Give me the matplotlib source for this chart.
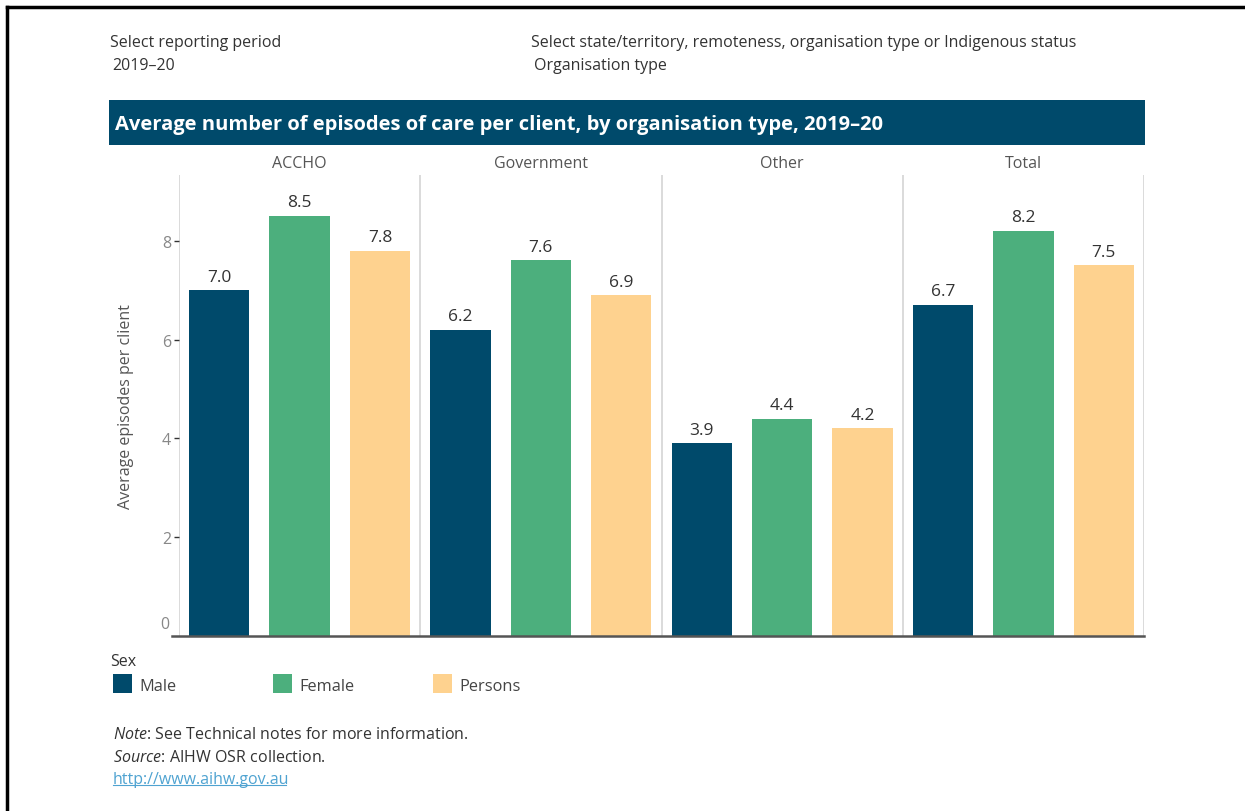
import matplotlib.pyplot as plt
from matplotlib.patches import Rectangle
from matplotlib.lines import Line2D

plt.rcParams['font.family'] = ['Open Sans', 'DejaVu Sans']
plt.rcParams['mathtext.fontset'] = 'custom'
plt.rcParams['mathtext.rm'] = 'Open Sans'
plt.rcParams['mathtext.it'] = 'Open Sans:italic'

# Data
org_types = ["ACCHO", "Government", "Other", "Total"]
sexes = ["Male", "Female", "Persons"]
male = [7.0, 6.2, 3.9, 6.7]
female = [8.5, 7.6, 4.4, 8.2]
persons = [7.8, 6.9, 4.2, 7.5]
y_ticks = [2, 4, 6, 8]

colours = ["#004a6b", "#4caf7d", "#fed28f"]
W, H = 1245, 812


def fx(px):
    return px / W


def fy(py):
    return 1 - py / H


fig = plt.figure(figsize=(12.45, 8.12), dpi=100)

# frame lines at top and left
fig.add_artist(Line2D([fx(7), 1], [fy(8), fy(8)], color="black", lw=2.5))
fig.add_artist(Line2D([fx(7), fx(7)], [fy(8), 0], color="black", lw=2.5))

# selector text
dark = "#333333"
fig.text(fx(110), fy(43), "Select reporting period", fontsize=11.5, color=dark, va="center")
fig.text(fx(112), fy(66), "2019–20", fontsize=11.5, color=dark, va="center")
fig.text(fx(531), fy(43), "Select state/territory, remoteness, organisation type or Indigenous status",
         fontsize=11.5, color=dark, va="center")
fig.text(fx(534), fy(66), "Organisation type", fontsize=11.5, color=dark, va="center")

# title bar
fig.add_artist(Rectangle((fx(109), fy(146)), fx(1145) - fx(109), fy(101) - fy(146),
                         facecolor="#004a6b", edgecolor="none", transform=fig.transFigure))
fig.text(fx(115), fy(125), "Average number of episodes of care per client, by organisation type, 2019–20",
         fontsize=14.5, fontweight="bold", color="white", va="center")

# main axes
ax = fig.add_axes([fx(179), fy(637), fx(1144) - fx(179), fy(176) - fy(637)])
series = [male, female, persons]
for g in range(len(org_types)):
    for s in range(3):
        x = g * 3 + s + 0.5
        v = series[s][g]
        ax.bar(x, v, width=0.75, color=colours[s], edgecolor="none")
        ax.annotate(f"{v:.1f}", (x, v), xytext=(0, 4), textcoords="offset points",
                    ha="center", va="bottom", fontsize=12.5, color=dark)
    ax.text(g * 3 + 1.5, 1.008, org_types[g], transform=ax.get_xaxis_transform(),
            ha="center", va="bottom", fontsize=11.5, color="#555555")

for xs in range(0, 13, 3):
    ax.axvline(xs, color="#d4d4d4", lw=1.2, zorder=0)

ax.set_xlim(0, 12)
ax.set_ylim(0, 9.33)
ax.set_xticks([])
ax.set_yticks(y_ticks)
ax.set_yticklabels([str(t) for t in y_ticks])
ax.tick_params(axis="y", length=3.6, width=1, color="#333333", labelcolor="#888888",
               labelsize=11.5, pad=2)
for side in ["top", "right", "left"]:
    ax.spines[side].set_visible(False)
ax.spines["bottom"].set_color("#555555")
ax.spines["bottom"].set_linewidth(1.8)
ax.spines["bottom"].set_bounds(-0.09, 12)
ax.annotate("0", (0, 0), xycoords=("axes fraction", "data"), xytext=(-7, 3),
            textcoords="offset points", ha="right", va="bottom", fontsize=11.5, color="#888888")
ax.set_ylabel("Average episodes per client", fontsize=11.5, color="#555555", labelpad=20)

# legend
fig.text(fx(110), fy(662), "Sex", fontsize=11.5, color=dark, va="center")
leg_x = [113, 273, 433]
for i, name in enumerate(sexes):
    fig.add_artist(Rectangle((fx(leg_x[i]), fy(694)), fx(19), fy(0) - fy(19),
                             facecolor=colours[i], edgecolor="none", transform=fig.transFigure))
    fig.text(fx(leg_x[i] + 26), fy(687), name, fontsize=11.8, color="#444444", va="center")

# notes
fig.text(fx(113), fy(735), r"$\it{Note}$: See Technical notes for more information.",
         fontsize=11.5, color=dark, va="center")
fig.text(fx(113), fy(758), r"$\it{Source}$: AIHW OSR collection.", fontsize=11.5, color=dark, va="center")
link = fig.text(fx(113), fy(780), "http://www.aihw.gov.au", fontsize=11.5, color="#4fa3d1", va="center")
bb = link.get_window_extent(renderer=fig.canvas.get_renderer())
fig.add_artist(Line2D([bb.x0 / W, (bb.x1 - 4) / W], [bb.y0 / H + 0.002, bb.y0 / H + 0.002],
                      color="#4fa3d1", lw=0.8))

fig.savefig("out.png", dpi=100)
